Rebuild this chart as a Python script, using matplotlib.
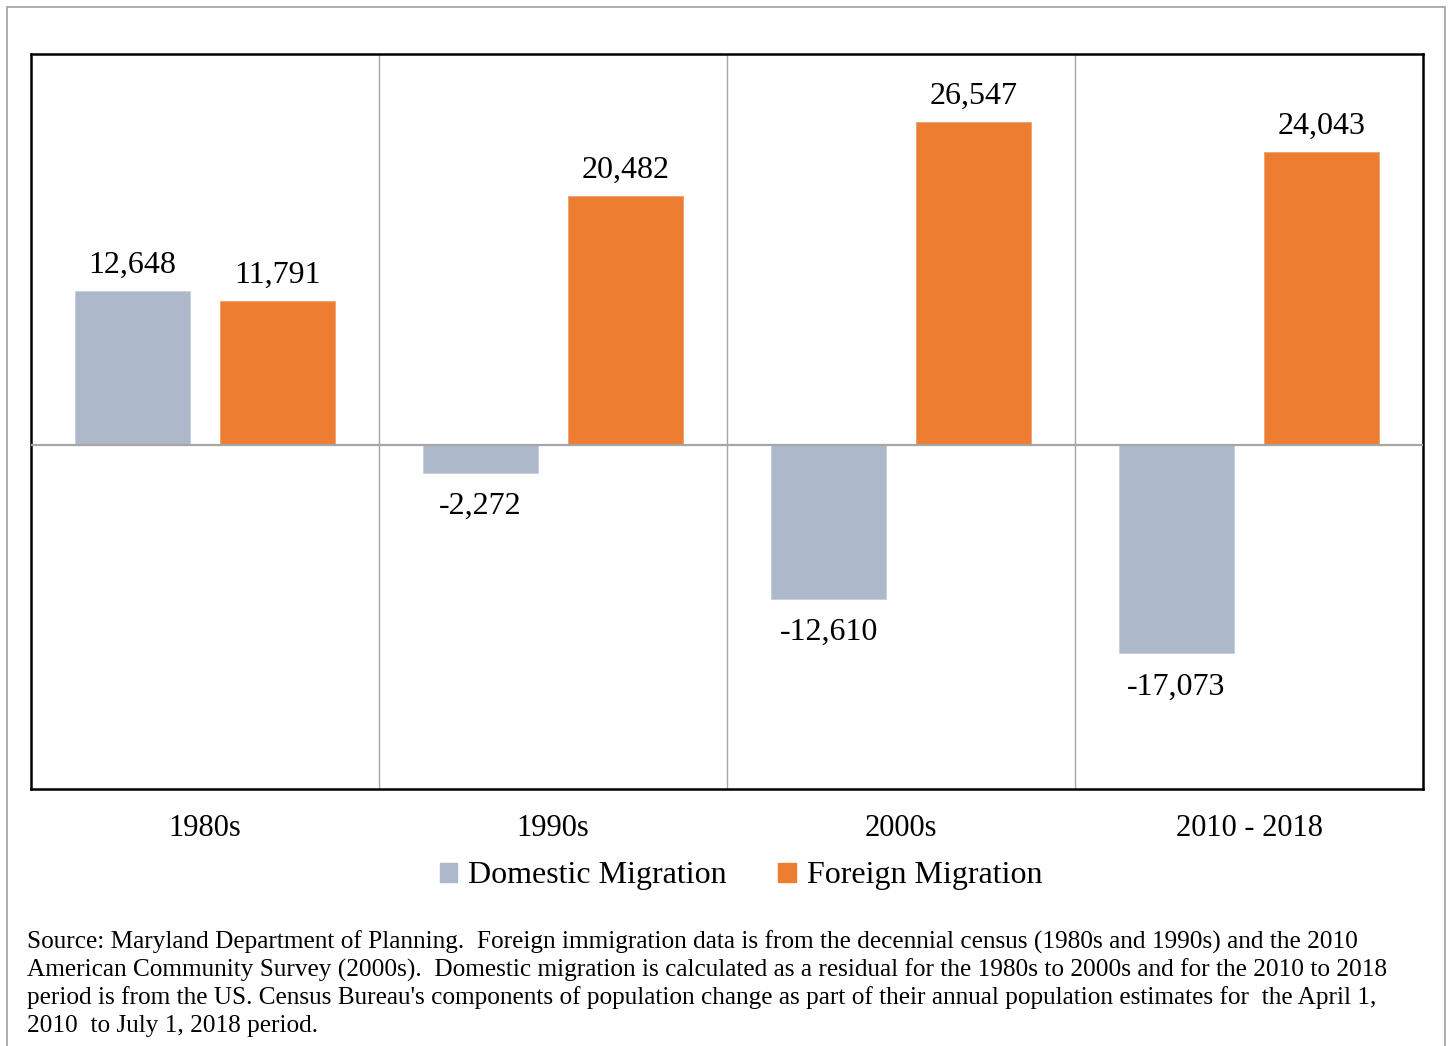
import matplotlib.pyplot as plt
from matplotlib.patches import Rectangle, Patch
import numpy as np

periods = ["1980s", "1990s", "2000s", "2010 - 2018"]
domestic = [12648, -2272, -12610, -17073]
foreign = [11791, 20482, 26547, 24043]

source_lines = [
    "Source: Maryland Department of Planning.  Foreign immigration data is from the decennial census (1980s and 1990s) and the 2010",
    "American Community Survey (2000s).  Domestic migration is calculated as a residual for the 1980s to 2000s and for the 2010 to 2018",
    "period is from the US. Census Bureau's components of population change as part of their annual population estimates for  the April 1,",
    "2010  to July 1, 2018 period.",
]

dom_color = "#ADB9CA"
for_color = "#ED7D31"
serif = "Liberation Serif"

W, H = 1449, 1046
fig = plt.figure(figsize=(W / 100, H / 100), dpi=100)

# outer gray frame of the exported figure
fig.patches.append(Rectangle((7 / W, -0.01), (1445 - 7) / W, 1 - 7 / H + 0.01,
                             transform=fig.transFigure, fill=False,
                             edgecolor="#a0a0a0", lw=1.2))

ax = fig.add_axes([31 / W, 1 - 789 / H, (1423 - 31) / W, (789 - 54) / H])

x = np.arange(len(periods))
w = 0.33
off = 0.208
b1 = ax.bar(x - off, domestic, w, color=dom_color, edgecolor="#c5cedb", lw=0.6, zorder=2)
b2 = ax.bar(x + off, foreign, w, color=for_color, edgecolor="#f0a070", lw=0.6, zorder=2)

ax.set_xlim(-0.5, len(periods) - 0.5)
ax.set_ylim(-28250, 32110)
ax.axhline(0, color="#a6a6a6", lw=1.6, zorder=3)
for sep in x[:-1] + 0.5:
    ax.axvline(sep, color="#a6a6a6", lw=1.0, zorder=1)

for bars, vals in [(b1, domestic), (b2, foreign)]:
    for bar, v in zip(bars, vals):
        cx = bar.get_x() + bar.get_width() / 2
        if v >= 0:
            ax.annotate(f"{v:,}", (cx, v), xytext=(0, 8), textcoords="offset points",
                        ha="center", va="bottom", fontsize=23, family=serif)
        else:
            ax.annotate(f"{v:,}", (cx, v), xytext=(0, -14), textcoords="offset points",
                        ha="center", va="top", fontsize=23, family=serif)

ax.set_yticks([])
ax.set_xticks(x)
ax.set_xticklabels(periods, fontsize=22, family=serif)
ax.tick_params(axis="x", length=0, pad=18)
for s in ax.spines.values():
    s.set_linewidth(1.8)
    s.set_color("black")

handles = [Patch(color=dom_color, label="Domestic Migration"),
           Patch(color=for_color, label="Foreign Migration")]
fig.legend(handles=handles, loc="center", bbox_to_anchor=(741 / W, 1 - 876 / H),
           ncol=2, frameon=False, prop={"family": serif, "size": 23},
           handlelength=0.55, handleheight=0.55, handletextpad=0.35, columnspacing=1.6)

for i, line in enumerate(source_lines):
    fig.text(27 / W, 1 - (942 + 28 * i) / H, line, ha="left", va="center",
             fontsize=18.2, family=serif)

fig.savefig("out.png", dpi=100)
